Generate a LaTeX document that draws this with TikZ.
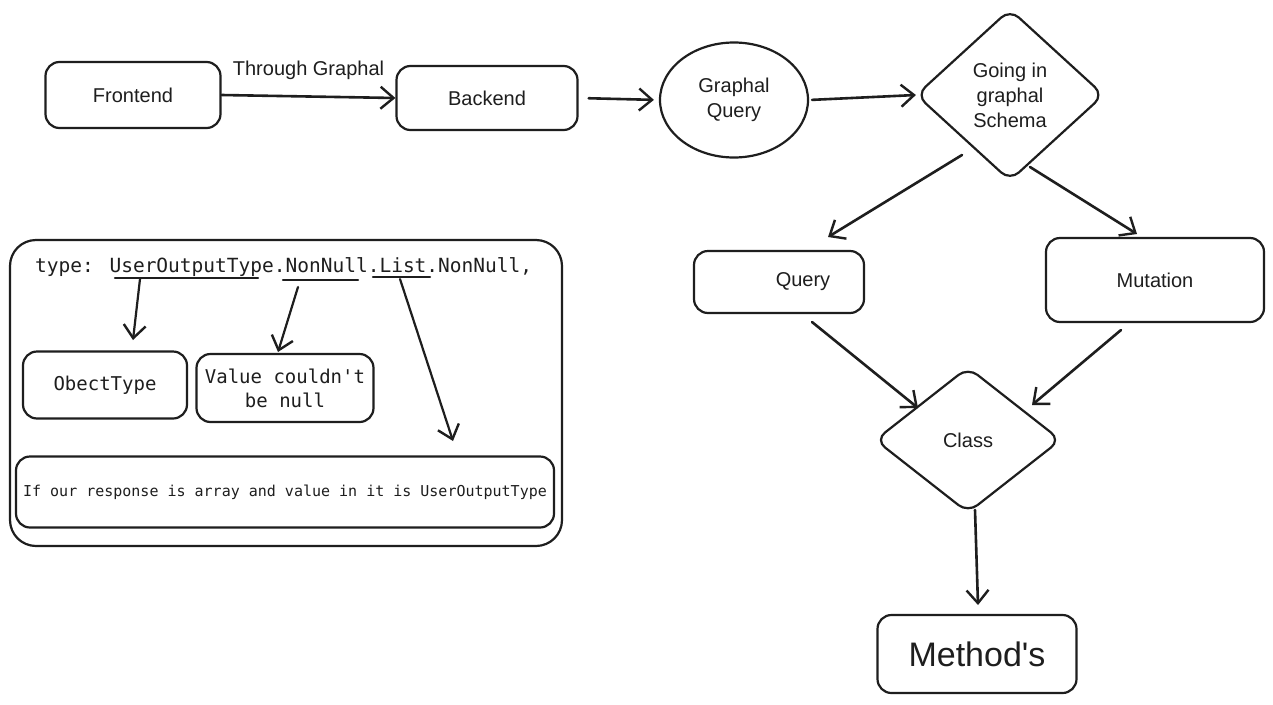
\documentclass[tikz,border=0pt]{standalone}
\usepackage{fontspec}
\setmainfont{Liberation Sans}
\newfontfamily\codefont{DejaVu Sans Mono}
\usetikzlibrary{shapes.geometric,arrows.meta}

\definecolor{ink}{HTML}{1E1E1E}

\tikzset{
  box/.style={draw=ink, line width=2.2pt, rounded corners=14pt, inner sep=0pt,
              font=\fontsize{20}{25}\selectfont, text=ink, align=center},
  codebox/.style={box, font=\codefont\fontsize{19}{24}\selectfont},
  decision/.style={draw=ink, line width=2.2pt, diamond, rounded corners=12pt,
              inner sep=0pt, font=\fontsize{20}{25}\selectfont, text=ink, align=center},
  arr/.style={draw=ink, line width=2.6pt, line cap=round,
              -{Straight Barb[length=13pt,width=22pt,line width=2.4pt]}},
  thinarr/.style={arr, line width=2.2pt},
  uline/.style={draw=ink, line width=2.4pt, line cap=round},
  lbl/.style={font=\fontsize{20}{25}\selectfont, text=ink, inner sep=0pt}
}

\begin{document}
\begin{tikzpicture}[x=1pt, y=-1pt]
  \useasboundingbox[fill=white] (0,0) rectangle (1273,704);

  % --- request pipeline ---
  \node[box, minimum width=175pt, minimum height=66pt] (FE) at (133,95) {Frontend};
  \node[box, minimum width=181pt, minimum height=64pt] (BE) at (487,98) {Backend};
  \node[draw=ink, line width=2.2pt, ellipse, minimum width=148pt, minimum height=115pt,
        inner sep=0pt, font=\fontsize{20}{25}\selectfont, text=ink, align=center]
        (GQ) at (734,100) {Graphal\\Query};
  \node[decision, minimum width=188pt, minimum height=172pt] (GS) at (1010,95)
        {Going in\\graphal\\Schema};

  \draw[arr] (FE.east) -- (BE.west)
    node[lbl, pos=0.5, above=16pt] {Through Graphal};
  \draw[arr, shorten <=10pt, shorten >=5pt] (BE.east) -- (GQ.west);
  \draw[arr, shorten <=3pt] (GQ.east) -- ([shift={(1,0)}]GS.west);

  % --- schema branches ---
  \node[box, minimum width=170pt, minimum height=62pt,
        label={[lbl, xshift=24pt]center:Query}] (QU) at (779,282) {};
  \node[box, minimum width=218pt, minimum height=84pt] (MU) at (1155,280) {Mutation};
  \node[decision, minimum width=186pt, minimum height=146pt] (CL) at (968,440) {Class};
  \node[box, minimum width=199pt, minimum height=78pt,
        font=\fontsize{34}{40}\selectfont] (ME) at (977,654) {Method\textquotesingle s};

  \draw[arr] ([shift={(-48,60)}]GS.center) -- ([shift={(49,-45)}]QU.center);
  \draw[arr] ([shift={(20,72)}]GS.center) -- ([shift={(-18,-46)}]MU.center);
  \draw[arr] ([shift={(33,40)}]QU.center) -- ([shift={(-50,-32)}]CL.center);
  \draw[arr] ([shift={(-34,50)}]MU.center) -- ([shift={(64,-35)}]CL.center);
  \draw[arr] ([shift={(7,70)}]CL.center) -- ([shift={(1,-49)}]ME.center);

  % --- type declaration panel ---
  \node[draw=ink, line width=2.2pt, rounded corners=26pt, minimum width=552pt,
        minimum height=306pt, inner sep=0pt] (PANEL) at (286,393) {};
  \node[anchor=base west, inner sep=0pt, text=ink,
        font=\codefont\fontsize{19.5}{24}\selectfont] (TYPE) at (35,272)
        {type: UserOutputType.NonNull.List.NonNull,};

  \coordinate (u1a) at (115,278); \coordinate (u1b) at (258,278);
  \coordinate (u2a) at (283,280); \coordinate (u2b) at (358,280);
  \coordinate (u3a) at (373,277); \coordinate (u3b) at (430,277);
  \draw[uline] (u1a) -- (u1b);
  \draw[uline] (u2a) -- (u2b);
  \draw[uline] (u3a) -- (u3b);
  \coordinate (t1) at (140,279);
  \coordinate (t2) at (298,287);
  \coordinate (t3) at (400,279);

  \node[codebox, minimum width=164pt, minimum height=67pt] (OT) at (105,385) {ObectType};
  \node[codebox, minimum width=177pt, minimum height=68pt] (VC) at (285,388)
        {Value couldn't\\be null};
  \node[box, minimum width=538pt, minimum height=71pt,
        font=\codefont\fontsize{15}{20}\selectfont] (AR) at (285,492)
        {If our response is array and value in it is UserOutputType};

  \draw[thinarr] (t1) -- ([shift={(28,-45)}]OT.center);
  \draw[thinarr] (t2) -- ([shift={(-7,-36)}]VC.center);
  \draw[thinarr] (t3) -- ([shift={(168,-51)}]AR.center);
\end{tikzpicture}
\end{document}
